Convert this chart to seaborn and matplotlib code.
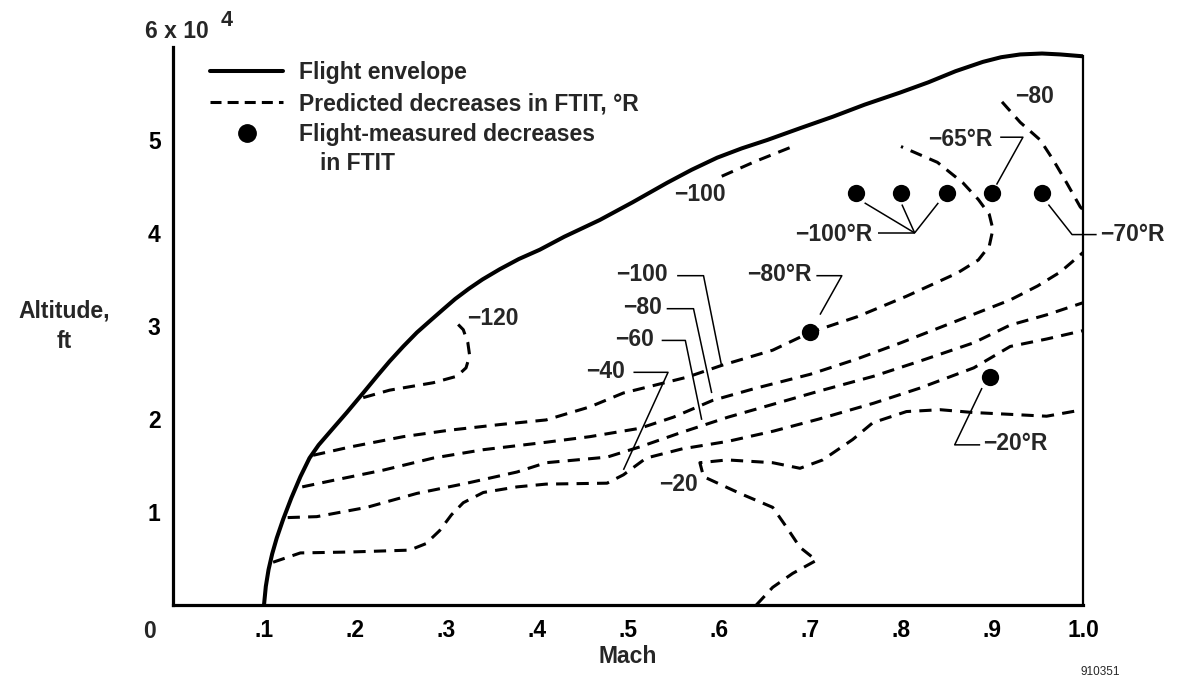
import matplotlib
matplotlib.use("Agg")
import matplotlib.pyplot as plt
import seaborn as sns
from matplotlib.lines import Line2D

# ---------------- data ----------------
env_mach = [0.100, 0.102, 0.105, 0.109, 0.114, 0.121, 0.130, 0.140, 0.150, 0.160, 0.175,
            0.191, 0.209, 0.225, 0.238, 0.253, 0.268, 0.283, 0.297, 0.310, 0.325, 0.340,
            0.359, 0.380, 0.403, 0.430, 0.469, 0.505, 0.543, 0.570, 0.598, 0.625, 0.653,
            0.690, 0.725, 0.760, 0.799, 0.830, 0.860, 0.890, 0.910, 0.931, 0.955, 0.975, 1.000]
env_alt = [0, 2000, 3800, 5500, 7200, 9200, 11500, 13800, 15800, 17200, 18900,
           20700, 22800, 24700, 26200, 27800, 29300, 30600, 31800, 32900, 34000, 35000,
           36100, 37200, 38200, 39600, 41400, 43300, 45400, 46800, 48100, 49100, 50000,
           51300, 52500, 53800, 55100, 56200, 57400, 58400, 58900, 59200, 59300, 59200, 59000]

c120_mach = [0.209, 0.238, 0.286, 0.312, 0.322, 0.326, 0.324, 0.319, 0.308]
c120_alt = [22300, 23100, 23900, 24600, 25500, 26800, 28200, 29600, 30700]

c100_mach = [0.154, 0.195, 0.253, 0.304, 0.359, 0.410, 0.458, 0.495, 0.524, 0.565, 0.604,
             0.659, 0.700, 0.752, 0.806, 0.862, 0.885, 0.897, 0.901, 0.897, 0.885, 0.868,
             0.840, 0.800]
c100_alt = [16100, 17000, 18100, 18800, 19400, 19900, 21300, 22800, 23500, 24500, 25800,
            27400, 29300, 31000, 33200, 35700, 37100, 38600, 40400, 42000, 43600, 45400,
            47600, 49300]

c100top_mach = [0.603, 0.640, 0.681]
c100top_alt = [46100, 47700, 49300]

c80_mach = [0.142, 0.176, 0.231, 0.286, 0.341, 0.410, 0.458, 0.513, 0.550, 0.593, 0.640,
            0.700, 0.750, 0.800, 0.860, 0.920, 0.950, 0.975, 1.000]
c80_alt = [12700, 13400, 14500, 15800, 16700, 17500, 18100, 19000, 20200, 22000, 23300,
           24800, 26400, 28200, 30500, 32800, 34300, 35800, 37900]

c80top_mach = [0.911, 0.931, 0.953, 0.967, 0.982, 0.997, 1.000]
c80top_alt = [54100, 51900, 50000, 47900, 45400, 42800, 42500]

c60_mach = [0.126, 0.158, 0.213, 0.268, 0.323, 0.378, 0.410, 0.477, 0.513, 0.557, 0.610,
            0.660, 0.710, 0.770, 0.820, 0.880, 0.920, 0.960, 1.000]
c60_alt = [9400, 9500, 10500, 12000, 13100, 14300, 15300, 15900, 17000, 18500, 20200,
           21600, 23000, 24600, 26200, 28200, 30100, 31200, 32500]

c40_mach = [0.110, 0.140, 0.195, 0.260, 0.278, 0.293, 0.306, 0.319, 0.341, 0.378, 0.410,
            0.477, 0.495, 0.520, 0.560, 0.610, 0.660, 0.710, 0.770, 0.820, 0.880, 0.920,
            0.960, 1.000]
c40_alt = [4600, 5600, 5700, 5900, 6600, 8000, 9700, 11000, 12100, 12700, 13000,
           13100, 14000, 15800, 16800, 17600, 18700, 20000, 21700, 23300, 25500, 27800,
           28600, 29500]

c20_mach = [0.641, 0.659, 0.681, 0.707, 0.689, 0.674, 0.659, 0.623, 0.583, 0.579, 0.609,
            0.659, 0.689, 0.714, 0.747, 0.769, 0.806, 0.843, 0.879, 0.920, 0.960, 1.000]
c20_alt = [0, 1900, 3400, 4800, 6200, 8400, 10500, 12000, 13800, 15300, 15600,
           15300, 14700, 15600, 17800, 19600, 20800, 21000, 20700, 20500, 20300, 21000]

meas_mach = [0.700, 0.750, 0.800, 0.850, 0.900, 0.955, 0.898]
meas_alt = [29400, 44300, 44300, 44300, 44300, 44300, 24500]

x_ticks = [0.1, 0.2, 0.3, 0.4, 0.5, 0.6, 0.7, 0.8, 0.9, 1.0]
x_ticklabels = [".1", ".2", ".3", ".4", ".5", ".6", ".7", ".8", ".9", "1.0"]
y_ticks = [10000, 20000, 30000, 40000, 50000, 60000]
y_ticklabels = ["1", "2", "3", "4", "5", ""]

legend_labels = ["Flight envelope", "Predicted decreases in FTIT, \u00b0R",
                 "Flight-measured decreases"]

# contour labels: (text, x, y, ha)
contour_labels = [
    ("\u2212120", 0.323, 30860, "left"),
    ("\u2212100", 0.607, 44130, "right"),
    ("\u2212100\u00b0R", 0.768, 39800, "right"),
    ("\u221265\u00b0R", 0.901, 50050, "right"),
    ("\u221280", 0.925, 54700, "left"),
    ("\u221270\u00b0R", 1.019, 39830, "left"),
    ("\u221280\u00b0R", 0.702, 35520, "right"),
    ("\u2212100", 0.544, 35520, "right"),
    ("\u221280", 0.537, 31940, "right"),
    ("\u221260", 0.528, 28530, "right"),
    ("\u221240", 0.497, 25110, "right"),
    ("\u221220", 0.577, 12920, "right"),
    ("\u221220\u00b0R", 0.890, 17400, "left"),
]

# leader lines (annotation layout)
leaders = [
    ([0.775, 0.815], [40010, 40010]),
    ([0.815, 0.760], [40010, 43240]),
    ([0.815, 0.801], [40010, 43060]),
    ([0.815, 0.841], [40010, 43240]),
    ([0.909, 0.934, 0.905], [50300, 50300, 45200]),
    ([0.962, 0.988, 1.015], [43060, 39830, 39830]),
    ([0.707, 0.735, 0.711], [35410, 35410, 31220]),
    ([0.554, 0.583, 0.603], [35410, 35410, 25650]),
    ([0.5425, 0.572, 0.592], [31860, 31860, 22790]),
    ([0.537, 0.563, 0.581], [28450, 28450, 19910]),
    ([0.506, 0.544, 0.495], [25020, 25020, 14530]),
    ([0.889, 0.859, 0.887], [23330, 17220, 17220]),
]

# ---------------- style ----------------
sns.set_theme(style="white")
plt.rcParams["font.family"] = ["Liberation Sans", "DejaVu Sans"]
plt.rcParams["font.weight"] = "bold"
FS = 16.5

fig = plt.figure(figsize=(11.89, 6.79), dpi=100)
ax = fig.add_axes([173 / 1189, 1 - 605 / 679, 910 / 1189, 558 / 679])

DASH = (0, (4.0, 2.7))
solid_kw = dict(color="black", lw=2.9, sort=False, estimator=None, ax=ax, legend=False)
dash_kw = dict(color="black", lw=2.2, sort=False, estimator=None, ax=ax, legend=False,
               linestyle=DASH)

sns.lineplot(x=env_mach, y=env_alt, **solid_kw)
for mx, al in [(c120_mach, c120_alt), (c100_mach, c100_alt), (c100top_mach, c100top_alt),
               (c80_mach, c80_alt), (c80top_mach, c80top_alt), (c60_mach, c60_alt),
               (c40_mach, c40_alt), (c20_mach, c20_alt)]:
    sns.lineplot(x=mx, y=al, **dash_kw)

sns.scatterplot(x=meas_mach, y=meas_alt, s=155, color="black", edgecolor="black",
                linewidth=0, ax=ax, legend=False, zorder=5)

for lx, ly in leaders:
    ax.plot(lx, ly, color="black", lw=1.1, clip_on=False, solid_capstyle="butt")

for txt, x, y, ha in contour_labels:
    ax.text(x, y, txt, ha=ha, va="center", fontsize=FS, fontweight="bold", clip_on=False)

ax.set_xlim(0, 1.0)
ax.set_ylim(0, 60000)
ax.set_xticks(x_ticks)
ax.set_xticklabels(x_ticklabels)
ax.set_yticks(y_ticks)
ax.set_yticklabels(y_ticklabels)
ax.tick_params(axis="both", direction="in", length=15, width=1.4, color="black",
               labelsize=FS, labelcolor="black")
ax.tick_params(axis="x", pad=10)
ax.tick_params(axis="y", pad=9)
for lab in ax.get_xticklabels() + ax.get_yticklabels():
    lab.set_fontweight("bold")

ax.spines["top"].set_visible(False)
ax.spines["left"].set_linewidth(2.3)
ax.spines["bottom"].set_linewidth(2.3)
ax.spines["right"].set_linewidth(1.6)
ax.spines["right"].set_bounds(0, env_alt[-1])
for s in ax.spines.values():
    s.set_color("black")
ax.set_facecolor("white")

ax.set_xlabel("Mach", fontsize=FS, fontweight="bold", labelpad=2)
ax.set_ylabel("Altitude,\nft", fontsize=FS, fontweight="bold", rotation=0,
              ha="center", va="center", linespacing=1.4)
ax.yaxis.set_label_coords(-0.119, 0.50)

ax.annotate("0", xy=(0, 0), xycoords="data", xytext=(-23, -27),
            textcoords="offset pixels", ha="center", va="center",
            fontsize=FS, fontweight="bold")

t6 = fig.text(145 / 1189, 1 - 31 / 679, "6 x 10", ha="left", va="center",
              fontsize=FS, fontweight="bold")
fig.canvas.draw()
bb = t6.get_window_extent(renderer=fig.canvas.get_renderer())
fig.text((bb.x1 + 12) / 1189, 1 - 21 / 679, "4", ha="left", va="center",
         fontsize=FS - 1, fontweight="bold")

fig.text(1100 / 1189, 1 - 672 / 679, "910351", ha="center", va="center",
         fontsize=8.5, fontweight="normal")

handles = [Line2D([], [], color="black", lw=2.9),
           Line2D([], [], color="black", lw=2.2, linestyle=(0, (3.6, 2.0))),
           Line2D([], [], color="black", marker="o", markersize=12.5, linestyle="none")]
leg = ax.legend(handles=handles, labels=legend_labels, loc="upper left",
                bbox_to_anchor=(210 / 1189, 1 - 61 / 679), bbox_transform=fig.transFigure,
                frameon=False, borderpad=0, borderaxespad=0, handlelength=3.2,
                handletextpad=0.7, labelspacing=0.36, prop={"size": FS, "weight": "bold"})
fig.text(320 / 1189, 1 - 163 / 679, "in FTIT", ha="left", va="center",
         fontsize=FS, fontweight="bold")

fig.savefig("out.png", dpi=100, facecolor="white")
